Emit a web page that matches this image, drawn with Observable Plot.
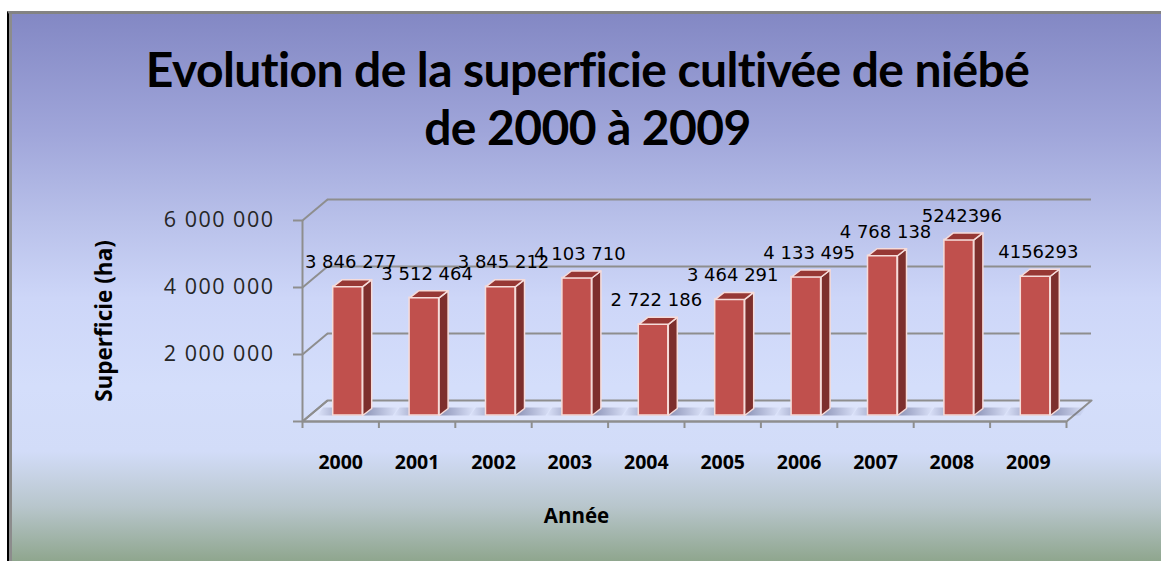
<!DOCTYPE html>
<html><head><meta charset="utf-8">
<script src="https://cdn.jsdelivr.net/npm/d3@7"></script>
<script src="https://cdn.jsdelivr.net/npm/@observablehq/plot@0.6"></script>
<style>
html,body{margin:0;padding:0;background:#fff;}
#wrap{position:relative;width:1161px;height:561px;overflow:hidden;background:#fff;}
#frame{position:absolute;left:7px;top:11px;width:1154px;height:550px;box-sizing:border-box;
 border-top:3px solid #838383;border-left:2px solid #000;
 box-shadow: inset 3px 0 0 #8c8c8c;
 background:linear-gradient(to bottom,#8388c4 0%,#a0a6da 22%,#b9c1ea 38%,#cdd6f8 52%,#d4defb 68%,#d2dcf8 80%,#b8c6cc 90%,#8fa68e 100%);}
#title{position:absolute;left:7px;top:40px;width:1161px;text-align:center;font-family:Lato,sans-serif;font-weight:bold;font-size:48px;letter-spacing:-0.6px;line-height:58px;color:#000;font-variant-ligatures:none;font-feature-settings:"liga" 0,"clig" 0;}
#chart{position:absolute;left:0;top:180px;}
#chart svg{background:transparent;overflow:visible;}
#chart [aria-label="y-axis tick label"] text{letter-spacing:1.5px;}
</style></head><body>
<div id="wrap"><div id="frame"></div>
<div id="title">Evolution de la superficie cultivée de niébé<br>de 2000 à 2009</div>
<div id="chart"></div></div>
<script>
// ---- data ----
const years = ["2000","2001","2002","2003","2004","2005","2006","2007","2008","2009"];
const superficie = [3846277, 3512464, 3845212, 4103710, 2722186, 3464291, 4133495, 4768138, 5242396, 4156293];
const valueLabels = ["3 846 277","3 512 464","3 845 212","4 103 710","2 722 186","3 464 291","4 133 495","4 768 138","5242396","4156293"];
const yTicks = [0, 2000000, 4000000, 6000000];
const yTickLabels = ["", "2 000 000", "4 000 000", "6 000 000"];
const yTitle = "Superficie (ha)";
const xTitle = "Année";

// ---- layout ----
const W = 1161, H = 381, mL = 302, mR = 95, mT = 40, mB = 140;
const xDom = [-0.5, years.length - 0.5], yDom = [0, 6000000];
const pxX = (W - mL - mR) / (xDom[1] - xDom[0]);
const pxY = (H - mT - mB) / (yDom[1] - yDom[0]);
const ux = px => px / pxX, uy = px => px / pxY;
const wallX = ux(25), wallY = uy(21);      // depth of the chart box
const barL = ux(-7.5), barR = ux(22);       // bar front face relative to category
const depX = ux(9), depY = uy(7);           // bar depth
const lift = -6;                            // bars sit slightly behind front edge

const data = years.map((year, i) => ({i, year, v: superficie[i], label: valueLabels[i]}));
const poly = (fn) => data.flatMap(d => fn(d).map(([x, y]) => ({id: d.i, x, y})));
const tops = poly(d => [[d.i+barL, d.v],[d.i+barR, d.v],[d.i+barR+depX, d.v+depY],[d.i+barL+depX, d.v+depY]]);
const sides = poly(d => [[d.i+barR, 0],[d.i+barR, d.v],[d.i+barR+depX, d.v+depY],[d.i+barR+depX, depY]]);
const shadows = poly(d => [[d.i+barL-ux(16), 0],[d.i+barR+ux(30), 0],[d.i+barR+ux(36), uy(8)],[d.i+barL-ux(10), uy(8)]]);
const floor = [[xDom[0],0],[xDom[1],0],[xDom[1]+wallX, wallY],[xDom[0]+wallX, wallY]].map(([x,y]) => ({x, y}));
const bounds = d3.range(xDom[0], xDom[1] + 0.01, 1);

const gray = "#8e8e8e";
const chart = Plot.plot({
  width: W, height: H, marginLeft: mL, marginRight: mR, marginTop: mT, marginBottom: mB,
  x: {domain: xDom, axis: null},
  y: {domain: yDom, axis: null},
  style: {background: "transparent", fontFamily: "Open Sans, sans-serif"},
  marks: [
    Plot.line(floor, {x: "x", y: "y", curve: "linear-closed", fill: "#dde4fb", stroke: gray, strokeWidth: 2}),
    Plot.ruleY(yTicks.filter(d => d > 0), {y: d => d + wallY, x1: xDom[0] + wallX, x2: xDom[1] + wallX, stroke: gray, strokeWidth: 2}),
    Plot.link(yTicks, {x1: xDom[0], y1: d => d, x2: xDom[0] + wallX, y2: d => d + wallY, stroke: gray, strokeWidth: 2}),
    Plot.ruleX([xDom[0]], {y1: yDom[0], y2: yDom[1], stroke: gray, strokeWidth: 2}),
    Plot.ruleY([0], {x1: xDom[0], x2: xDom[1], stroke: gray, strokeWidth: 2}),
    Plot.axisY({ticks: yTicks, tickFormat: d => yTickLabels[yTicks.indexOf(d)], tickSize: 9, tickPadding: 19,
      stroke: gray, strokeWidth: 2, fill: "#262626", fontSize: 21.5, strokeOpacity: 1}),
    Plot.axisX({ticks: bounds, tickFormat: () => "", tickSize: 7, stroke: gray, strokeWidth: 2, strokeOpacity: 1}),
    Plot.line(shadows, {x: "x", y: "y", z: "id", curve: "linear-closed", fill: "url(#shadowGrad)", dy: lift}),
    Plot.rect(data, {x1: d => d.i + barL, x2: d => d.i + barR, y1: 0, y2: "v", fill: "#c0504d", stroke: "#f6dcda", strokeWidth: 1.5, dy: lift}),
    Plot.line(sides, {x: "x", y: "y", z: "id", curve: "linear-closed", fill: "#7d2f2d", stroke: "#f6dcda", strokeWidth: 1.5, dy: lift}),
    Plot.line(tops, {x: "x", y: "y", z: "id", curve: "linear-closed", fill: "#973835", stroke: "#f6dcda", strokeWidth: 1.5, dy: lift}),
    Plot.text(data, {x: "i", y: "v", text: "label", dx: 10, dy: -30, fontSize: 18, fontFamily: "DejaVu Sans", fill: "#000"}),
    Plot.text(data, {x: "i", frameAnchor: "bottom", text: "year", dy: 41, lineAnchor: "middle", textAnchor: "middle", fontSize: 19.5, fontWeight: "bold", fill: "#000"}),
    Plot.text([xTitle], {frameAnchor: "bottom", text: d => d, dx: -108, dy: 95, lineAnchor: "middle", textAnchor: "middle", fontSize: 20.5, fontWeight: "bold", fill: "#000"}),
    Plot.text([yTitle], {frameAnchor: "left", text: d => d, dx: -198, rotate: -90, lineAnchor: "middle", textAnchor: "middle", fontSize: 22.5, fontWeight: "bold", fill: "#000"})
  ]
});
// gradient used to soften the bar shadows on the floor
const defs = d3.select(chart).insert("defs", ":first-child");
const grad = defs.append("linearGradient").attr("id", "shadowGrad").attr("x1", 0).attr("x2", 1).attr("y1", 0).attr("y2", 0);
[[0, 0], [0.35, 0.55], [0.62, 0.5], [1, 0]].forEach(([o, a]) =>
  grad.append("stop").attr("offset", o).attr("stop-color", "#4f5683").attr("stop-opacity", a));
document.getElementById("chart").appendChild(chart);
</script>
</body></html>
